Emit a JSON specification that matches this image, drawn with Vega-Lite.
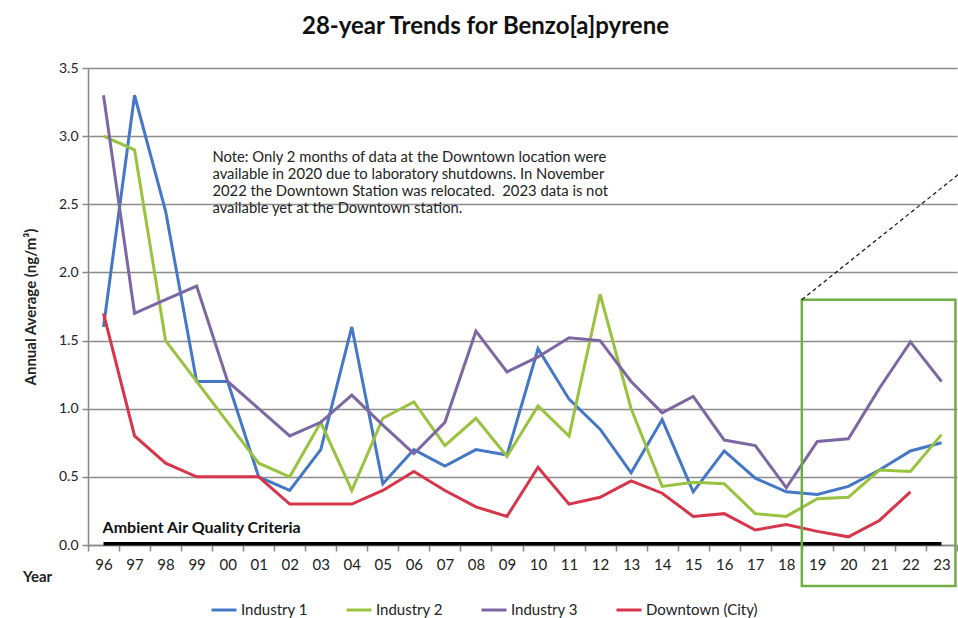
{
  "$schema": "https://vega.github.io/schema/vega-lite/v6.json",
  "width": 869,
  "height": 477,
  "autosize": "none",
  "padding": {"left": 88, "top": 68, "right": 1, "bottom": 73},
  "background": "white",
  "title": {"text": "28-year Trends for Benzo[a]pyrene", "fontSize": 24, "font": "Lato", "fontWeight": "bold", "color": "#111", "dx": -37, "offset": 22},
  "config": {
    "font": "Lato",
    "view": {"stroke": null},
    "axis": {"labelFont": "Lato", "titleFont": "Lato", "labelColor": "#222", "titleColor": "#222"},
    "axisX": {"labelOverlap": false, "labelFlush": false, "labelBound": false}
  },
  "datasets": {
    "trend": [
      {"year": 1996, "Industry 1": 1.6, "Industry 2": 3.0, "Industry 3": 3.3, "Downtown (City)": 1.7},
      {"year": 1997, "Industry 1": 3.3, "Industry 2": 2.9, "Industry 3": 1.7, "Downtown (City)": 0.8},
      {"year": 1998, "Industry 1": 2.45, "Industry 2": 1.5, "Industry 3": 1.8, "Downtown (City)": 0.6},
      {"year": 1999, "Industry 1": 1.2, "Industry 2": 1.2, "Industry 3": 1.9, "Downtown (City)": 0.5},
      {"year": 2000, "Industry 1": 1.2, "Industry 2": 0.9, "Industry 3": 1.2, "Downtown (City)": 0.5},
      {"year": 2001, "Industry 1": 0.5, "Industry 2": 0.6, "Industry 3": 1.0, "Downtown (City)": 0.5},
      {"year": 2002, "Industry 1": 0.4, "Industry 2": 0.5, "Industry 3": 0.8, "Downtown (City)": 0.3},
      {"year": 2003, "Industry 1": 0.7, "Industry 2": 0.9, "Industry 3": 0.9, "Downtown (City)": 0.3},
      {"year": 2004, "Industry 1": 1.6, "Industry 2": 0.4, "Industry 3": 1.1, "Downtown (City)": 0.3},
      {"year": 2005, "Industry 1": 0.45, "Industry 2": 0.93, "Industry 3": 0.88, "Downtown (City)": 0.4},
      {"year": 2006, "Industry 1": 0.7, "Industry 2": 1.05, "Industry 3": 0.67, "Downtown (City)": 0.54},
      {"year": 2007, "Industry 1": 0.58, "Industry 2": 0.73, "Industry 3": 0.9, "Downtown (City)": 0.4},
      {"year": 2008, "Industry 1": 0.7, "Industry 2": 0.93, "Industry 3": 1.57, "Downtown (City)": 0.28},
      {"year": 2009, "Industry 1": 0.66, "Industry 2": 0.65, "Industry 3": 1.27, "Downtown (City)": 0.21},
      {"year": 2010, "Industry 1": 1.44, "Industry 2": 1.02, "Industry 3": 1.38, "Downtown (City)": 0.57},
      {"year": 2011, "Industry 1": 1.07, "Industry 2": 0.8, "Industry 3": 1.52, "Downtown (City)": 0.3},
      {"year": 2012, "Industry 1": 0.85, "Industry 2": 1.84, "Industry 3": 1.5, "Downtown (City)": 0.35},
      {"year": 2013, "Industry 1": 0.53, "Industry 2": 1.0, "Industry 3": 1.2, "Downtown (City)": 0.47},
      {"year": 2014, "Industry 1": 0.92, "Industry 2": 0.43, "Industry 3": 0.97, "Downtown (City)": 0.38},
      {"year": 2015, "Industry 1": 0.39, "Industry 2": 0.46, "Industry 3": 1.09, "Downtown (City)": 0.21},
      {"year": 2016, "Industry 1": 0.69, "Industry 2": 0.45, "Industry 3": 0.77, "Downtown (City)": 0.23},
      {"year": 2017, "Industry 1": 0.49, "Industry 2": 0.23, "Industry 3": 0.73, "Downtown (City)": 0.11},
      {"year": 2018, "Industry 1": 0.39, "Industry 2": 0.21, "Industry 3": 0.42, "Downtown (City)": 0.15},
      {"year": 2019, "Industry 1": 0.37, "Industry 2": 0.34, "Industry 3": 0.76, "Downtown (City)": 0.1},
      {"year": 2020, "Industry 1": 0.43, "Industry 2": 0.35, "Industry 3": 0.78, "Downtown (City)": 0.06},
      {"year": 2021, "Industry 1": 0.55, "Industry 2": 0.55, "Industry 3": 1.15, "Downtown (City)": 0.18},
      {"year": 2022, "Industry 1": 0.69, "Industry 2": 0.54, "Industry 3": 1.49, "Downtown (City)": 0.39},
      {"year": 2023, "Industry 1": 0.75, "Industry 2": 0.81, "Industry 3": 1.2}
    ],
    "one": [{"k": 1}]
  },
  "layer": [
    {
      "data": {"name": "trend"},
      "transform": [{"fold": ["Industry 1", "Industry 2", "Industry 3", "Downtown (City)"], "as": ["series", "value"]}],
      "mark": {"type": "line", "strokeWidth": 3, "clip": false},
      "encoding": {
        "x": {
          "field": "year", "type": "quantitative",
          "scale": {"domain": [1995.5, 2023.5], "nice": false, "zero": false},
          "axis": {
            "values": [1995.5, 1996.5, 1997.5, 1998.5, 1999.5, 2000.5, 2001.5, 2002.5, 2003.5, 2004.5, 2005.5, 2006.5, 2007.5, 2008.5, 2009.5, 2010.5, 2011.5, 2012.5, 2013.5, 2014.5, 2015.5, 2016.5, 2017.5, 2018.5, 2019.5, 2020.5, 2021.5, 2022.5, 2023.5],
            "tickCount": 60,
            "labelExpr": "datum.value > 2023 ? '' : slice('0' + (floor(datum.value + 0.5) % 100), -2)",
            "labelOffset": 15.5,
            "labelOverlap": false,
            "labelFlush": false,
            "labelBound": false,
            "labelFontSize": 15,
            "labelPadding": 6,
            "tickSize": 6,
            "tickColor": "#888",
            "tickWidth": 1.5,
            "domainColor": "#888",
            "domainWidth": 1.5,
            "grid": false,
            "title": "Year",
            "titleFontSize": 15,
            "titleFontWeight": "bold",
            "titleX": -51,
            "titleY": 31,
            "titleAlign": "center",
            "titleBaseline": "middle",
            "titleAngle": 0
          }
        },
        "y": {
          "field": "value", "type": "quantitative",
          "scale": {"domain": [0, 3.5], "nice": false},
          "axis": {
            "values": [0, 0.5, 1, 1.5, 2, 2.5, 3, 3.5],
            "format": ".1f",
            "labelFontSize": 14,
            "labelPadding": 4,
            "tickSize": 6,
            "tickColor": "#888",
            "tickWidth": 1.5,
            "domainColor": "#888",
            "domainWidth": 1.5,
            "grid": true,
            "gridColor": "#8c8c8c",
            "gridWidth": 1.5,
            "title": "Annual Average (ng/m³)",
            "titleFontSize": 15,
            "titleFontWeight": "bold",
            "titlePadding": 20
          }
        },
        "color": {
          "field": "series", "type": "nominal",
          "scale": {"domain": ["Industry 1", "Industry 2", "Industry 3", "Downtown (City)"], "range": ["#4478C6", "#99C23F", "#7C67A2", "#D6354A"]},
          "legend": {
            "title": null,
            "orient": "none",
            "legendX": 122,
            "legendY": 528,
            "direction": "horizontal",
            "symbolType": "stroke",
            "symbolSize": 625,
            "symbolStrokeWidth": 3,
            "labelFontSize": 15,
            "labelOffset": 3,
            "columnPadding": 32,
            "labelColor": "#222"
          }
        }
      }
    },
    {
      "data": {"name": "one"},
      "mark": {"type": "rule", "color": "#000", "strokeWidth": 3.5},
      "encoding": {"x": {"datum": 1996}, "x2": {"datum": 2023}, "y": {"datum": 0.01}}
    },
    {
      "data": {"name": "one"},
      "mark": {"type": "text", "text": "Ambient Air Quality Criteria", "fontSize": 16, "fontWeight": "bold", "align": "left", "baseline": "middle", "color": "#111"},
      "encoding": {"x": {"datum": 1995.97}, "y": {"datum": 0.125}}
    },
    {
      "data": {"name": "one"},
      "mark": {
        "type": "text",
        "text": ["Note: Only 2 months of data at the Downtown location were", "available in 2020 due to laboratory shutdowns. In November", "2022 the Downtown Station was relocated.\u00a0 2023 data is not", "available yet at the Downtown station."],
        "fontSize": 14.8, "lineHeight": 17, "align": "left", "baseline": "top", "color": "#222"
      },
      "encoding": {"x": {"datum": 1999.51}, "y": {"datum": 2.9}}
    },
    {
      "data": {"name": "one"},
      "mark": {"type": "rect", "fill": null, "fillOpacity": 0, "stroke": "#6FAE45", "strokeWidth": 2.5, "clip": false},
      "encoding": {"x": {"datum": 2018.5}, "x2": {"datum": 2023.45}, "y": {"datum": 1.8}, "y2": {"datum": -0.3}}
    },
    {
      "data": {"name": "one"},
      "mark": {"type": "rule", "color": "#111", "strokeWidth": 1.2, "strokeDash": [4, 3], "clip": false},
      "encoding": {"x": {"datum": 2018.5}, "y": {"datum": 1.8}, "x2": {"datum": 2023.55}, "y2": {"datum": 2.72}}
    }
  ]
}
